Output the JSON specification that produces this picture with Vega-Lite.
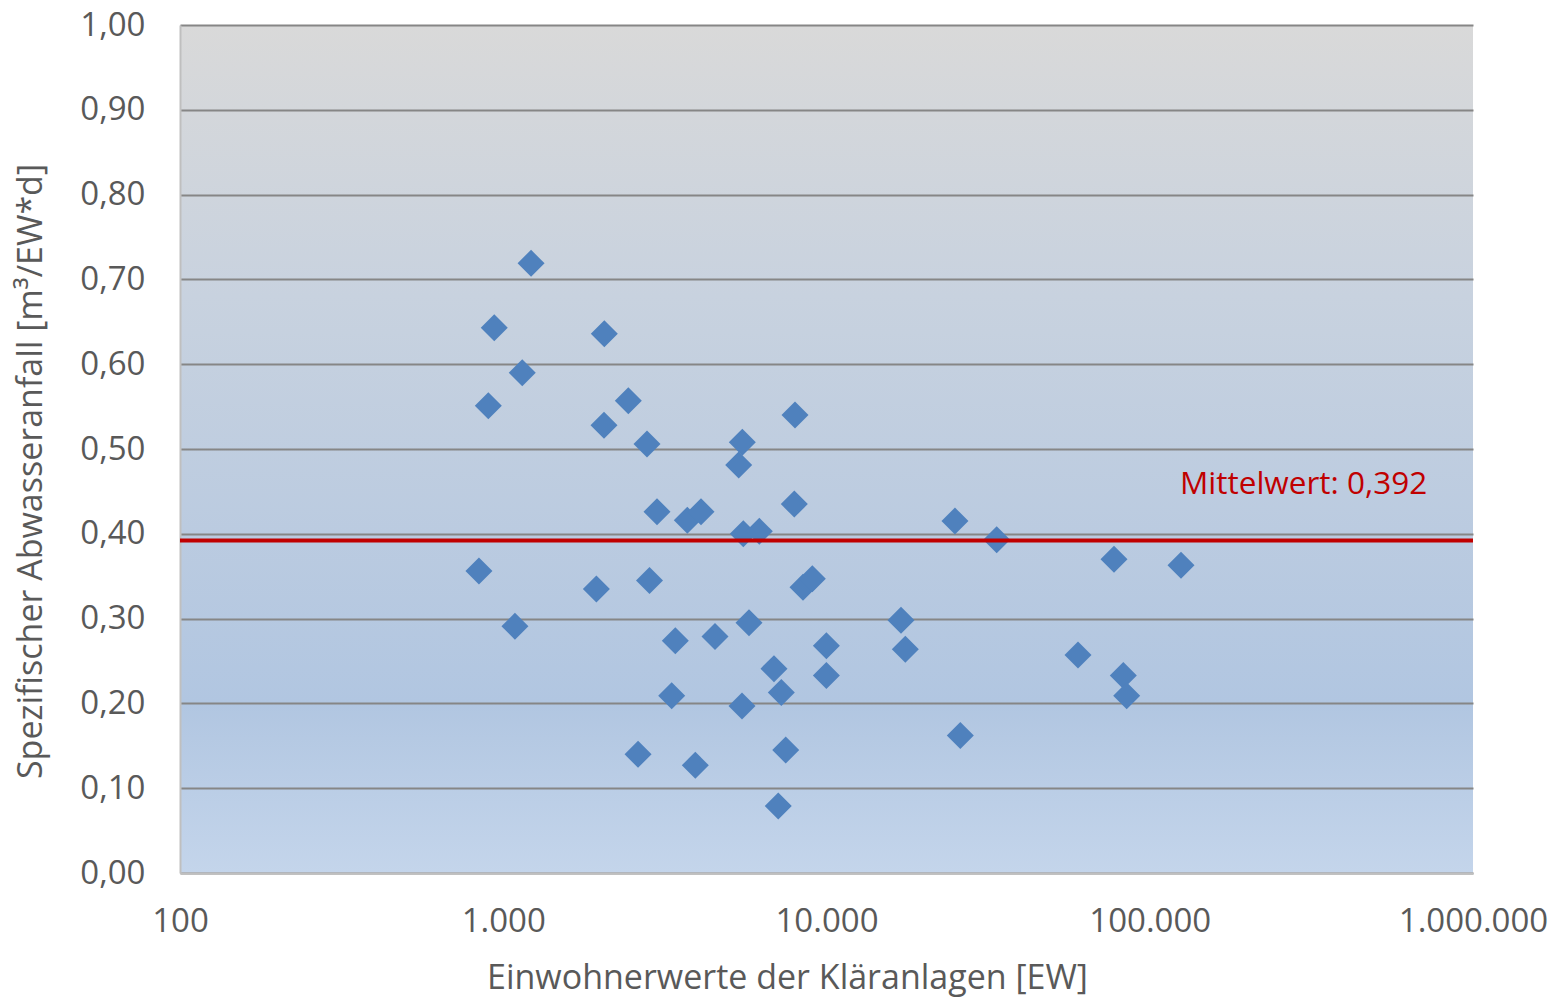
{
  "$schema": "https://vega.github.io/schema/vega-lite/v6.json",
  "autosize": "none",
  "padding": {"left": 180, "top": 25, "right": 81, "bottom": 124},
  "width": 1293,
  "height": 848,
  "background": "#ffffff",
  "config": {
    "locale": {"number": {"decimal": ",", "thousands": ".", "grouping": [3], "currency": ["", " €"]}},
    "font": "Open Sans",
    "view": {
      "stroke": null,
      "fill": {
        "gradient": "linear",
        "x1": 0, "y1": 0, "x2": 0, "y2": 1,
        "stops": [
          {"offset": 0, "color": "#d9d9d9"},
          {"offset": 0.32, "color": "#c8d2df"},
          {"offset": 0.8, "color": "#b1c6e1"},
          {"offset": 1, "color": "#c4d5eb"}
        ]
      }
    },
    "axis": {
      "labelFont": "Open Sans",
      "labelFontSize": 33,
      "labelColor": "#595959",
      "titleFont": "Open Sans",
      "titleFontSize": 34,
      "titleFontWeight": "normal",
      "titleColor": "#595959",
      "ticks": false,
      "tickSize": 0,
      "domainColor": "#bfbfbf",
      "domainWidth": 2
    }
  },
  "datasets": {
    "anlagen": [
      {"ew": 1219, "abwasser": 0.719},
      {"ew": 938, "abwasser": 0.643},
      {"ew": 2054, "abwasser": 0.636},
      {"ew": 1145, "abwasser": 0.590},
      {"ew": 899, "abwasser": 0.551},
      {"ew": 2437, "abwasser": 0.557},
      {"ew": 2050, "abwasser": 0.528},
      {"ew": 2784, "abwasser": 0.506},
      {"ew": 5490, "abwasser": 0.508},
      {"ew": 5351, "abwasser": 0.481},
      {"ew": 7990, "abwasser": 0.540},
      {"ew": 2990, "abwasser": 0.426},
      {"ew": 3710, "abwasser": 0.416},
      {"ew": 4091, "abwasser": 0.426},
      {"ew": 5529, "abwasser": 0.400},
      {"ew": 6196, "abwasser": 0.403},
      {"ew": 7950, "abwasser": 0.435},
      {"ew": 841, "abwasser": 0.356},
      {"ew": 1941, "abwasser": 0.335},
      {"ew": 2834, "abwasser": 0.345},
      {"ew": 1087, "abwasser": 0.291},
      {"ew": 2612, "abwasser": 0.140},
      {"ew": 8459, "abwasser": 0.337},
      {"ew": 9040, "abwasser": 0.347},
      {"ew": 5757, "abwasser": 0.295},
      {"ew": 3406, "abwasser": 0.274},
      {"ew": 4519, "abwasser": 0.279},
      {"ew": 9990, "abwasser": 0.268},
      {"ew": 6879, "abwasser": 0.241},
      {"ew": 9990, "abwasser": 0.233},
      {"ew": 3320, "abwasser": 0.209},
      {"ew": 7247, "abwasser": 0.213},
      {"ew": 5478, "abwasser": 0.197},
      {"ew": 3928, "abwasser": 0.127},
      {"ew": 7479, "abwasser": 0.145},
      {"ew": 7093, "abwasser": 0.079},
      {"ew": 24970, "abwasser": 0.415},
      {"ew": 33610, "abwasser": 0.393},
      {"ew": 77520, "abwasser": 0.370},
      {"ew": 124930, "abwasser": 0.363},
      {"ew": 17000, "abwasser": 0.298},
      {"ew": 17530, "abwasser": 0.264},
      {"ew": 59980, "abwasser": 0.257},
      {"ew": 82820, "abwasser": 0.233},
      {"ew": 84850, "abwasser": 0.209},
      {"ew": 25940, "abwasser": 0.162}
    ],
    "mittel": [
      {"mittelwert": 0.392, "beschriftung": "Mittelwert: 0,392"}
    ]
  },
  "encoding": {
    "x": {
      "type": "quantitative",
      "scale": {"type": "log", "domain": [100, 1000000], "nice": false},
      "axis": {
        "title": "Einwohnerwerte der Kläranlagen [EW]",
        "values": [100, 1000, 10000, 100000, 1000000],
        "format": ",.0f",
        "grid": false,
        "labelPadding": 48,
        "labelBaseline": "middle",
        "labelFlush": false,
        "labelOverlap": false,
        "titleX": 607,
        "titleY": 105,
        "titleBaseline": "middle",
        "titleAnchor": null,
        "titleAlign": "center"
      }
    },
    "y": {
      "type": "quantitative",
      "scale": {"domain": [0, 1], "nice": false},
      "axis": {
        "title": "Spezifischer Abwasseranfall [m³/EW*d]",
        "values": [0, 0.1, 0.2, 0.3, 0.4, 0.5, 0.6, 0.7, 0.8, 0.9, 1.0],
        "format": ".2f",
        "grid": true,
        "gridColor": "#868686",
        "gridWidth": 2,
        "labelPadding": 35,
        "labelFlush": false,
        "labelOverlap": false,
        "titleX": -149,
        "titleY": 446,
        "titleAngle": -90,
        "titleBaseline": "middle",
        "titleAlign": "center",
        "titleAnchor": null
      }
    }
  },
  "layer": [
    {
      "data": {"name": "anlagen"},
      "mark": {"type": "point", "shape": "diamond", "filled": true, "size": 729, "color": "#4f81bd", "opacity": 1, "strokeWidth": 0},
      "encoding": {
        "x": {"field": "ew", "type": "quantitative"},
        "y": {"field": "abwasser", "type": "quantitative"}
      }
    },
    {
      "data": {"name": "mittel"},
      "mark": {"type": "rule", "color": "#c00000", "strokeWidth": 4},
      "encoding": {
        "y": {"field": "mittelwert", "type": "quantitative"}
      }
    },
    {
      "data": {"name": "mittel"},
      "mark": {"type": "text", "color": "#c00000", "font": "Open Sans", "fontSize": 31.5, "align": "left", "baseline": "middle"},
      "encoding": {
        "x": {"datum": 124000},
        "y": {"datum": 0.4575},
        "text": {"field": "beschriftung"}
      }
    }
  ]
}
